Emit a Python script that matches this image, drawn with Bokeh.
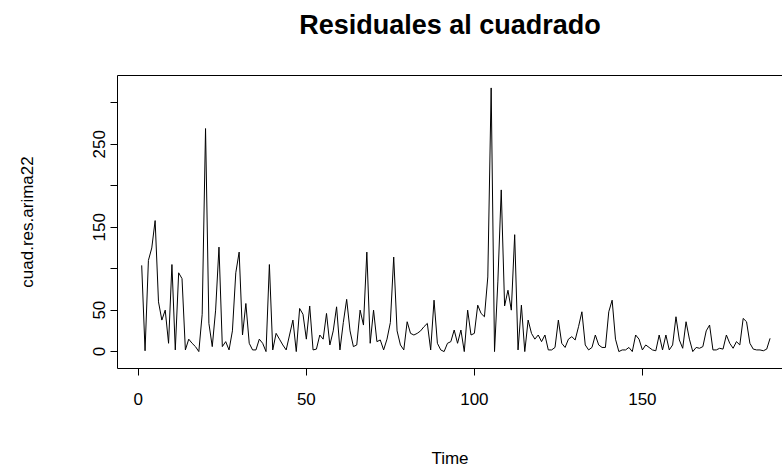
from bokeh.plotting import figure
from bokeh.models import Range1d, FixedTicker, LinearAxis
from bokeh.embed import file_html
from bokeh.resources import INLINE

title_text = "Residuales al cuadrado"
x_label = "Time"
y_label = "cuad.res.arima22"
x_ticks = [0, 50, 100, 150]
y_ticks = [0, 50, 100, 150, 200, 250, 300]
y_tick_labels = {0: "0", 50: "50", 100: "", 150: "150", 200: "", 250: "250", 300: ""}

values = [
    104, 1, 110, 125, 158, 60, 38, 50, 10, 105,
    2, 95, 88, 2, 15, 10, 6, 0, 45, 269,
    34, 6, 50, 126, 6, 12, 2, 25, 95, 120,
    20, 58, 10, 2, 2, 15, 10, 0, 105, 2,
    22, 15, 8, 2, 20, 38, 0, 52, 45, 15,
    55, 2, 3, 20, 15, 46, 8, 25, 54, 2,
    35, 63, 25, 6, 8, 50, 32, 120, 10, 50,
    12, 14, 2, 15, 35, 114, 25, 8, 2, 36,
    22, 20, 22, 25, 30, 34, 2, 62, 10, 2,
    0, 10, 12, 26, 10, 26, 0, 50, 20, 22,
    56, 46, 42, 90, 318, 0, 85, 195, 55, 74,
    50, 141, 2, 56, 0, 38, 22, 15, 20, 12,
    20, 2, 2, 5, 38, 10, 5, 15, 18, 14,
    30, 48, 8, 2, 5, 20, 8, 5, 5, 48,
    62, 15, 0, 2, 2, 5, 0, 20, 15, 2,
    8, 5, 2, 1, 20, 2, 20, 2, 8, 42,
    14, 4, 36, 15, 0, 5, 4, 6, 25, 32,
    2, 2, 4, 3, 20, 10, 4, 12, 8, 40,
    36, 10, 3, 2, 2, 1, 3, 16,
]
time = list(range(1, len(values) + 1))

FONT = "Liberation Sans"

p = figure(width=782, height=470, output_backend="svg", toolbar_location=None,
           x_range=Range1d(-6.2, 191.7), y_range=Range1d(-20.4, 333),
           min_border_left=117, min_border_right=0, min_border_top=75,
           min_border_bottom=100, title=title_text)
p.line(time, values, line_color="black", line_width=1)

p.grid.visible = False
p.outline_line_color = None
p.background_fill_color = "white"
p.border_fill_color = "white"

bottom_axis = p.below[0]
left_axis = p.left[0]

for ax in (bottom_axis, left_axis):
    ax.axis_line_color = "black"
    ax.axis_line_width = 1
    ax.major_tick_line_color = "black"
    ax.major_tick_in = 0
    ax.major_tick_out = 7
    ax.minor_tick_line_color = None
    ax.major_label_text_font = FONT
    ax.major_label_text_font_size = "17px"
    ax.major_label_text_color = "black"
    ax.axis_label_text_font = FONT
    ax.axis_label_text_font_size = "17px"
    ax.axis_label_text_font_style = "normal"
    ax.axis_label_text_color = "black"

bottom_axis.ticker = FixedTicker(ticks=x_ticks)
left_axis.ticker = FixedTicker(ticks=y_ticks)
left_axis.major_label_overrides = y_tick_labels
left_axis.major_label_orientation = "vertical"
bottom_axis.axis_label = x_label
left_axis.axis_label = y_label
bottom_axis.major_label_standoff = 17
bottom_axis.axis_label_standoff = 41
left_axis.major_label_standoff = 5
left_axis.axis_label_standoff = 54

# top edge of the box: an axis showing only its line; its hidden tick length spaces the title
top_axis = LinearAxis(ticker=FixedTicker(ticks=[x_ticks[0]]),
                      major_label_overrides={x_ticks[0]: ""},
                      axis_line_color="black", axis_line_width=1,
                      major_tick_line_color=None, minor_tick_line_color=None,
                      major_tick_in=0, major_tick_out=36, minor_tick_out=0,
                      major_label_standoff=0, major_label_text_font_size="1px")
p.add_layout(top_axis, "above")

p.title.align = "center"
p.title.text_font = FONT
p.title.text_font_size = "27px"
p.title.text_font_style = "bold"
p.title.text_color = "black"
p.title.standoff = 0

open("out.html", "w").write(file_html(p, INLINE))
